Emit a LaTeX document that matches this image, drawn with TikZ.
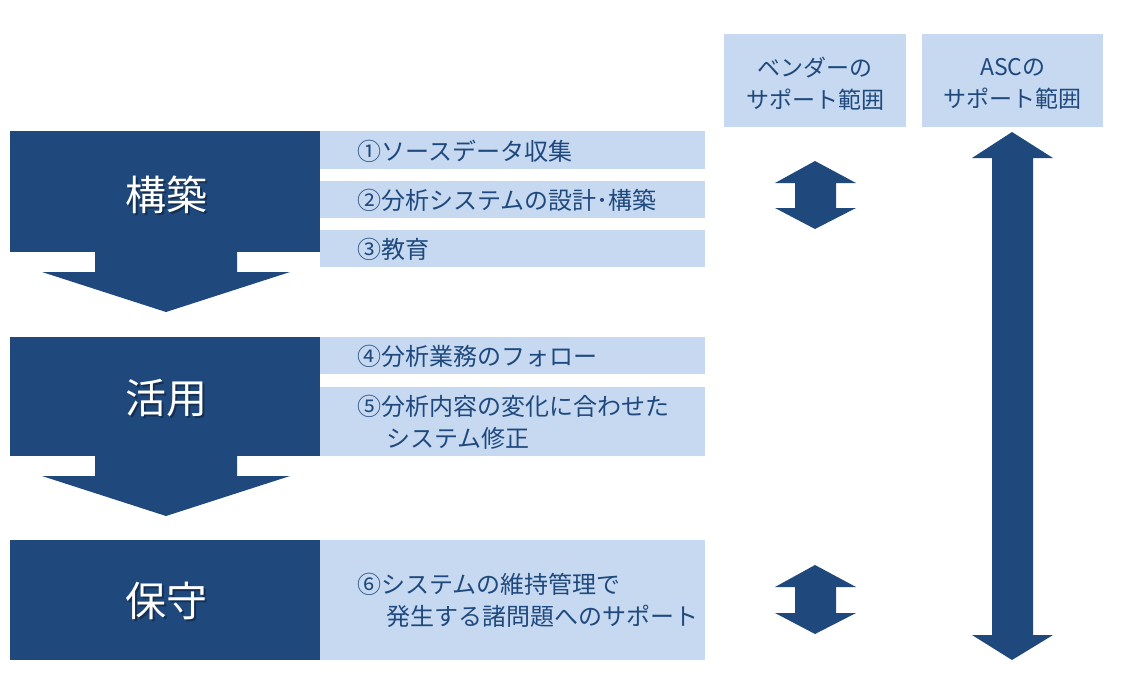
\documentclass[tikz,border=0pt]{standalone}
\usepackage{fontspec}
\setmainfont{Noto Sans CJK JP}
\definecolor{navy}{HTML}{1F497D}
\definecolor{pale}{HTML}{C6D9F1}
\tikzset{
  phase/.style={fill=navy, draw=none, minimum width=310pt, inner sep=0pt, anchor=north west},
  phasetext/.style={text=white, inner sep=0pt, font=\fontsize{41}{44}\selectfont},
  phaseshadow/.style={text=black, opacity=0.35, inner sep=0pt, font=\fontsize{41}{44}\selectfont},
  task/.style={fill=pale, draw=none, minimum width=385pt, inner sep=0pt, anchor=north west},
  tasktext/.style={anchor=west, inner sep=0pt, text=navy, align=left, font=\fontsize{24}{32}\selectfont},
  head/.style={fill=pale, draw=none, inner sep=0pt, anchor=north west, text=navy, align=center, font=\fontsize{23}{32}\selectfont},
  blockarrow/.style={fill=navy, draw=none}
}
\begin{document}
\begin{tikzpicture}[x=1pt,y=-1pt]
\useasboundingbox (0,0) rectangle (1121,681);
% phase boxes
\node[phase, minimum height=121pt] (p1) at (10,131) {};
\node[phase, minimum height=119pt] (p2) at (10,337) {};
\node[phase, minimum height=120pt] (p3) at (10,540) {};
\node[phaseshadow] (s1) at (168,197) {構築};
\node[phasetext] (t1) at (166,195) {構築};
\node[phaseshadow] (s2) at (168,400) {活用};
\node[phasetext] (t2) at (166,398) {活用};
\node[phaseshadow] (s3) at (168,603) {保守};
\node[phasetext] (t3) at (166,601) {保守};
% down block arrows
\fill[blockarrow] (95,251) -- (95,272) -- (42,272) -- (166,312) -- (290,272) -- (237,272) -- (237,251) -- cycle;
\fill[blockarrow] (95,455) -- (95,476) -- (42,476) -- (166,516) -- (290,476) -- (237,476) -- (237,455) -- cycle;
% task boxes
\node[task, minimum height=38pt] (b1) at (320,131) {};
\node[task, minimum height=37pt] (b2) at (320,181) {};
\node[task, minimum height=37pt] (b3) at (320,230) {};
\node[task, minimum height=37pt] (b4) at (320,337) {};
\node[task, minimum height=69pt] (b5) at (320,387) {};
\node[task, minimum height=120pt] (b6) at (320,540) {};
\node[tasktext] (l1) at (357,151) {①ソースデータ収集};
\node[tasktext] (l2) at (357,200) {②分析システムの設計･構築};
\node[tasktext] (l3) at (357,249) {③教育};
\node[tasktext] (l4) at (357,356) {④分析業務のフォロー};
\node[tasktext] (l5) at (357,422) {⑤分析内容の変化に合わせた\\\hspace*{29pt}システム修正};
\node[tasktext] (l6) at (357,600) {⑥システムの維持管理で\\\hspace*{29pt}発生する諸問題へのサポート};
% headers
\node[head, minimum width=182pt, minimum height=93pt] (h1) at (724,34) {};
\node[head, minimum width=181pt, minimum height=93pt] (h2) at (922,34) {};
\node[text=navy, align=center, inner sep=0pt, font=\fontsize{23}{32}\selectfont] (h1t) at ([yshift=-3pt]h1.center) {ベンダーの\\サポート範囲};
\node[text=navy, align=center, inner sep=0pt, font=\fontsize{23}{32}\selectfont] (h2t) at ([yshift=-3pt]h2.center) {ASCの\\サポート範囲};
% vendor double arrows
\fill[blockarrow] (815,161) -- (856,183) -- (836,183) -- (836,208) -- (856,208) -- (815,229) -- (775,208) -- (795,208) -- (795,183) -- (775,183) -- cycle;
\fill[blockarrow] (815,565) -- (856,587) -- (836,587) -- (836,613) -- (856,613) -- (815,634) -- (775,613) -- (795,613) -- (795,587) -- (775,587) -- cycle;
% ASC long double arrow
\fill[blockarrow] (1012,132) -- (1053,158) -- (1033,158) -- (1033,635) -- (1053,635) -- (1012,660) -- (972,635) -- (992,635) -- (992,158) -- (972,158) -- cycle;
\end{tikzpicture}
\end{document}
